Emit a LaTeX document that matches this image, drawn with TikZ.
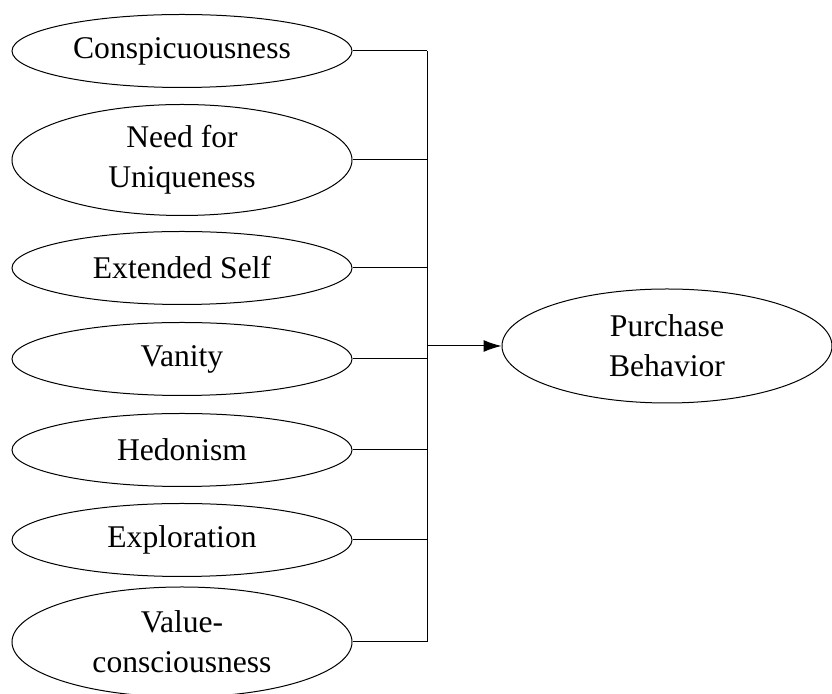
\documentclass[tikz,border=0pt]{standalone}
\usepackage{fontspec}
\setmainfont{Liberation Serif}
\usetikzlibrary{shapes.geometric,arrows.meta}

\tikzset{
  factor/.style={ellipse, draw, line width=0.5pt, inner sep=0pt, align=center,
    minimum width=170pt, minimum height=36.5pt,
    font=\fontsize{15.8}{20}\selectfont},
  tall/.style={minimum height=55.5pt},
  link/.style={line width=0.5pt}
}

\begin{document}
\begin{tikzpicture}[x=0.5pt,y=-0.5pt]
      \useasboundingbox (0,0) rectangle (832,694);

      \node[factor] (c1) at (182,51) {Conspicuousness};
      \node[factor,tall] (c2) at (182,160) {Need for\\Uniqueness};
      \node[factor] (c3) at (182,268) {Extended Self};
      \node[factor] (c4) at (182,359) {Vanity};
      \node[factor] (c5) at (182,450) {Hedonism};
      \node[factor] (c6) at (182,540) {Exploration};
      \node[factor,minimum height=55pt] (c7) at (182,642) {Value-\\consciousness};

      \node[factor,minimum width=165pt,minimum height=57pt] (pb) at (667,346) {Purchase\\Behavior};

      \coordinate (bus) at (427,346);

      \foreach \n in {1,...,7} {
          \draw[link] (c\n.east) -- (c\n.east -| bus);
      }
      \draw[link] (c1.east -| bus) -- (c7.east -| bus);

      \draw[link,-{Latex[length=9pt,width=6pt]}] (bus) -- (pb.west);

\end{tikzpicture}
\end{document}
